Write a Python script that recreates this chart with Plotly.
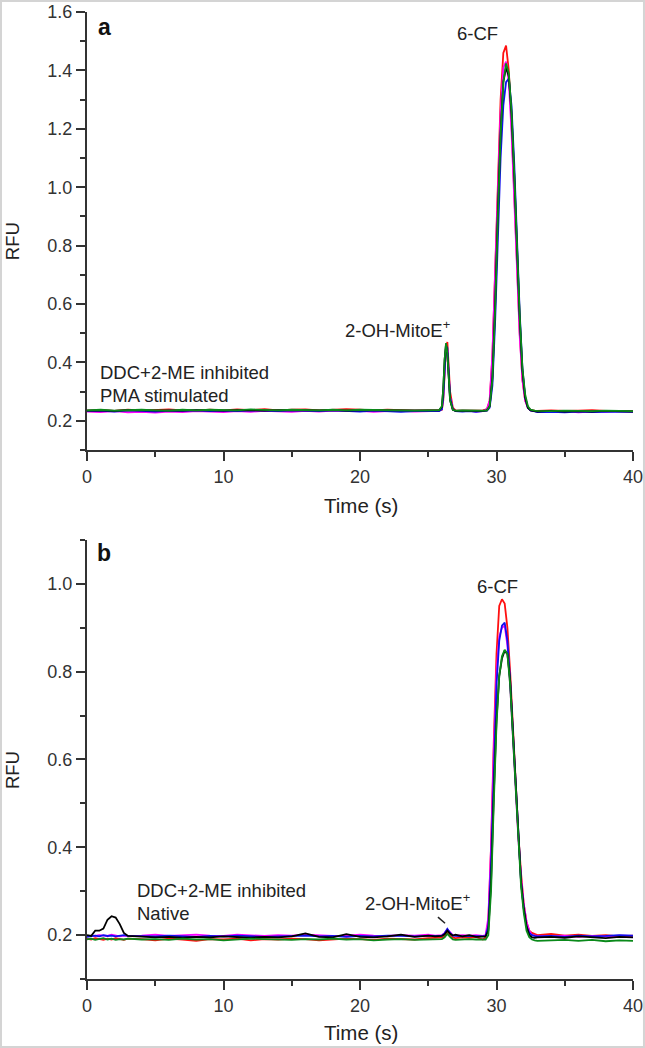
import plotly.graph_objects as go

FONT = "Liberation Sans, Arial, sans-serif"

# ---------------- Panel a data ----------------
t_a = [0, 1, 2, 3, 4, 5, 6, 7, 8, 9, 10, 11, 12, 13, 14, 15, 16, 17, 18, 19, 20, 21, 22, 23, 24, 25,
       25.5, 25.8, 26.0, 26.1, 26.2, 26.3, 26.4, 26.5, 26.6, 26.8,
       27.0, 27.5, 28, 28.5, 29,
       29.3, 29.5, 29.7, 29.9, 30.1, 30.3, 30.5, 30.7, 30.9, 31.1,
       31.3, 31.5, 31.7, 31.9, 32.1, 32.3, 32.5, 32.8, 33,
       34, 35, 36, 37, 38, 39, 40]

red_a = [.235, .237, .234, .238, .235, .236, .239, .236, .235, .238, .236, .239, .237, .240, .236, .238, .239, .236, .237, .240, .238, .236, .238, .236, .235, .236,
         .235, .236, .238, .27, .36, .45, .47, .39, .30, .245,
         .236, .235, .236, .235, .236,
         .24, .27, .42, .70, 1.02, 1.30, 1.46, 1.485, 1.40, 1.22,
         .98, .72, .50, .34, .27, .245, .237, .235, .234,
         .236, .234, .235, .237, .234, .235, .234]

magenta_a = [.232, .230, .233, .229, .231, .228, .232, .230, .233, .232, .230, .233, .231, .234, .233, .231, .234, .232, .235, .233, .234, .231, .233, .234, .232, .233,
             .233, .234, .242, .29, .38, .455, .44, .35, .28, .24,
             .234, .233, .234, .232, .233,
             .24, .27, .43, .70, 1.00, 1.26, 1.41, 1.43, 1.36, 1.19,
             .96, .71, .49, .34, .27, .244, .236, .233, .232,
             .231, .233, .229, .232, .231, .233, .232]

blue_a = [.234, .235, .232, .236, .234, .232, .235, .234, .236, .233, .235, .233, .236, .235, .233, .236, .235, .233, .236, .234, .232, .235, .234, .231, .233, .234,
          .232, .233, .24, .28, .37, .455, .45, .36, .28, .24,
          .233, .232, .233, .231, .233,
          .235, .245, .32, .54, .84, 1.10, 1.28, 1.36, 1.372, 1.28,
          1.08, .82, .57, .38, .28, .245, .236, .232, .230,
          .231, .229, .232, .230, .231, .232, .231]

green_a = [.236, .238, .235, .236, .238, .236, .235, .238, .236, .238, .237, .236, .239, .237, .236, .238, .237, .236, .238, .236, .238, .237, .236, .237, .235, .236,
           .236, .237, .25, .31, .41, .466, .43, .33, .27, .238,
           .235, .236, .235, .236, .235,
           .236, .25, .34, .58, .90, 1.18, 1.36, 1.424, 1.39, 1.26,
           1.05, .79, .56, .38, .29, .25, .238, .235, .234,
           .233, .235, .234, .233, .235, .234, .233]

black_a = [.235, .236, .234, .237, .236, .235, .236, .235, .237, .236, .235, .237, .236, .235, .237, .236, .235, .236, .237, .235, .236, .236, .235, .234, .236, .235,
           .235, .236, .248, .31, .41, .462, .43, .33, .27, .238,
           .234, .235, .234, .235, .234,
           .236, .25, .35, .60, .92, 1.19, 1.36, 1.41, 1.38, 1.25,
           1.04, .78, .55, .37, .28, .245, .236, .233, .232,
           .234, .232, .233, .232, .234, .233, .232]

# ---------------- Panel b data ----------------
t_b = [0, 0.3, 0.6, 0.9, 1.2, 1.5, 1.8, 2.1, 2.4, 2.7, 3.0,
       4, 5, 6, 7, 8, 9, 10, 11, 12, 13, 14, 15, 16, 17, 18, 19, 20, 21, 22, 23, 24, 25,
       25.5, 26.0, 26.2, 26.4, 26.6, 26.8, 27.0, 27.5, 28, 28.5,
       29.0, 29.2, 29.4, 29.6, 29.8, 30.0, 30.2, 30.4, 30.6, 30.8, 31.0,
       31.2, 31.4, 31.6, 31.8, 32.0, 32.2, 32.4, 32.6, 32.8, 33.0,
       34, 35, 36, 37, 38, 39, 40]

red_b = [.192, .190, .193, .191, .189, .192, .190, .193, .191, .189, .192,
         .191, .188, .192, .190, .187, .191, .190, .192, .188, .191, .190, .192, .191, .188, .190, .192, .191, .189, .192, .191, .190, .193,
         .193, .194, .198, .205, .199, .194, .193, .195, .194, .196,
         .19, .195, .23, .40, .64, .84, .95, .965, .955, .90, .80,
         .67, .54, .43, .34, .27, .23, .21, .205, .203, .20,
         .203, .199, .201, .198, .200, .197, .199]

magenta_b = [.197, .199, .198, .200, .199, .198, .201, .199, .197, .199, .198,
             .199, .201, .198, .199, .201, .199, .198, .201, .199, .198, .200, .199, .201, .200, .198, .199, .201, .199, .198, .200, .199, .201,
             .199, .200, .205, .213, .206, .200, .199, .200, .199, .200,
             .198, .20, .24, .40, .62, .80, .88, .90, .905, .86, .77,
             .65, .53, .42, .33, .27, .23, .21, .20, .199, .198,
             .197, .199, .196, .198, .197, .199, .198]

blue_b = [.196, .198, .199, .197, .200, .198, .199, .197, .198, .200, .198,
          .198, .197, .199, .198, .196, .198, .197, .199, .198, .196, .197, .198, .199, .197, .198, .196, .198, .197, .199, .198, .197, .198,
          .198, .199, .204, .214, .205, .199, .198, .197, .198, .197,
          .197, .198, .22, .36, .58, .77, .87, .905, .912, .87, .78,
          .66, .53, .41, .32, .26, .22, .205, .20, .198, .197,
          .198, .196, .199, .197, .198, .200, .199]

green_b = [.190, .192, .189, .191, .193, .190, .192, .189, .191, .190, .192,
           .190, .191, .189, .192, .190, .191, .188, .190, .192, .191, .190, .189, .191, .190, .192, .190, .191, .188, .190, .191, .189, .190,
           .190, .191, .195, .203, .196, .190, .189, .190, .191, .190,
           .19, .19, .20, .30, .50, .68, .79, .835, .85, .84, .77,
           .66, .53, .41, .31, .25, .21, .195, .19, .188, .187,
           .188, .189, .187, .189, .186, .188, .187]

black_b = [.200, .198, .210, .210, .215, .235, .243, .240, .225, .205, .198,
           .197, .195, .196, .194, .196, .195, .197, .195, .194, .196, .195, .197, .204, .196, .195, .202, .196, .195, .197, .201, .196, .199,
           .197, .198, .202, .210, .203, .199, .201, .197, .200, .196,
           .196, .197, .21, .32, .52, .69, .79, .83, .848, .84, .78,
           .67, .54, .42, .32, .26, .22, .20, .195, .194, .195,
           .196, .194, .197, .195, .193, .196, .195]

COLORS = {"red": "#ff1010", "magenta": "#ff00ff", "blue": "#1010ee",
          "green": "#0a8a1a", "black": "#000000"}

series_a = [("red", red_a), ("magenta", magenta_a), ("blue", blue_a), ("black", black_a), ("green", green_a)]
series_b = [("red", red_b), ("magenta", magenta_b), ("blue", blue_b), ("black", black_b), ("green", green_b)]

fig = go.Figure()
for name, ys in series_a:
    fig.add_trace(go.Scatter(x=t_a, y=ys, mode="lines", name=name,
                             line=dict(color=COLORS[name], width=1.8),
                             xaxis="x", yaxis="y", showlegend=False))
for name, ys in series_b:
    fig.add_trace(go.Scatter(x=t_b, y=ys, mode="lines", name=name,
                             line=dict(color=COLORS[name], width=1.8),
                             xaxis="x2", yaxis="y2", showlegend=False))

AX = "#333333"
common = dict(showline=True, linecolor=AX, linewidth=2, ticks="outside", ticklen=9,
              tickwidth=2, tickcolor=AX, showgrid=False, zeroline=False, automargin=False,
              tickfont=dict(size=18, color="#333333", family=FONT))
minor_x = dict(dtick=5, ticks="outside", ticklen=5, tickwidth=2, tickcolor=AX, showgrid=False)
minor_y = dict(dtick=0.1, ticks="outside", ticklen=5, tickwidth=2, tickcolor=AX, showgrid=False)

fig.update_layout(
    width=645, height=1048, autosize=False,
    margin=dict(l=87, r=12, t=12, b=69, pad=0),
    paper_bgcolor="white", plot_bgcolor="white",
    font=dict(family=FONT, color="#222222"),
    xaxis=dict(domain=[0, 1], range=[0, 40], anchor="y", tick0=0, dtick=10, minor=minor_x, **common),
    yaxis=dict(domain=[0.547, 1], range=[0.1, 1.6], anchor="x", tick0=0, dtick=0.2,
               tickformat=".1f", minor=minor_y, **common),
    xaxis2=dict(domain=[0, 1], range=[0, 40], anchor="y2", tick0=0, dtick=10, minor=minor_x, **common),
    yaxis2=dict(domain=[0, 0.454], range=[0.1, 1.1], anchor="x2", tick0=0, dtick=0.2,
                tickformat=".1f", minor=minor_y, **common),
)

ann_font = dict(size=18.5, color="#222222", family=FONT)


def ann(text, x, y, xref, yref, font, xanchor="center", angle=0):
    return dict(text=text, x=x, y=y, xref=xref, yref=yref, showarrow=False, font=font,
                xanchor=xanchor, yanchor="middle", textangle=angle, borderpad=0)


title_font = dict(size=20.5, color="#222222", family=FONT)
rfu_font = dict(size=18.5, color="#222222", family=FONT)
label_font = dict(size=23, color="#111111", family=FONT)

annotations = [
    # panel a
    ann("<b>a</b>", 1.25, 1.548, "x", "y", label_font),
    ann("6-CF", 28.64, 1.528, "x", "y", ann_font),
    ann("2-OH-MitoE<sup>+</sup>", 22.75, 0.514, "x", "y", ann_font),
    ann("DDC+2-ME inhibited", 0.88, 0.366, "x", "y", ann_font, xanchor="left"),
    ann("PMA stimulated", 0.88, 0.286, "x", "y", ann_font, xanchor="left"),
    # panel b
    ann("<b>b</b>", 1.25, 1.070, "x2", "y2", label_font),
    ann("6-CF", 30.04, 0.995, "x2", "y2", ann_font),
    ann("DDC+2-ME inhibited", 3.59, 0.302, "x2", "y2", ann_font, xanchor="left"),
    ann("Native", 3.59, 0.25, "x2", "y2", ann_font, xanchor="left"),
    ann("2-OH-MitoE<sup>+</sup>", 24.18, 0.275, "x2", "y2", ann_font),
    # axis titles
    ann("Time (s)", 0.502, 0.490, "paper", "paper", title_font),
    ann("Time (s)", 0.502, -0.0558, "paper", "paper", title_font),
    ann("RFU", -0.1374, 0.763, "paper", "paper", rfu_font, angle=-90),
    ann("RFU", -0.1374, 0.216, "paper", "paper", rfu_font, angle=-90),
]
fig.update_layout(annotations=annotations)

fig.update_layout(shapes=[
    dict(type="line", xref="x2", yref="y2", x0=25.71, y0=0.241, x1=26.23, y1=0.227,
         line=dict(color="#222222", width=1.5)),
    dict(type="rect", xref="paper", yref="paper", x0=-0.1575, x1=1.0201, y0=-0.0703, y1=1.0114,
         line=dict(color="#d4d4d4", width=2), fillcolor="rgba(0,0,0,0)", layer="below"),
])

fig.write_html(
    "out.html",
    config={"displayModeBar": False},
    post_script="document.body.style.margin='0';document.body.style.padding='0';"
                "document.documentElement.style.overflow='hidden';",
)
